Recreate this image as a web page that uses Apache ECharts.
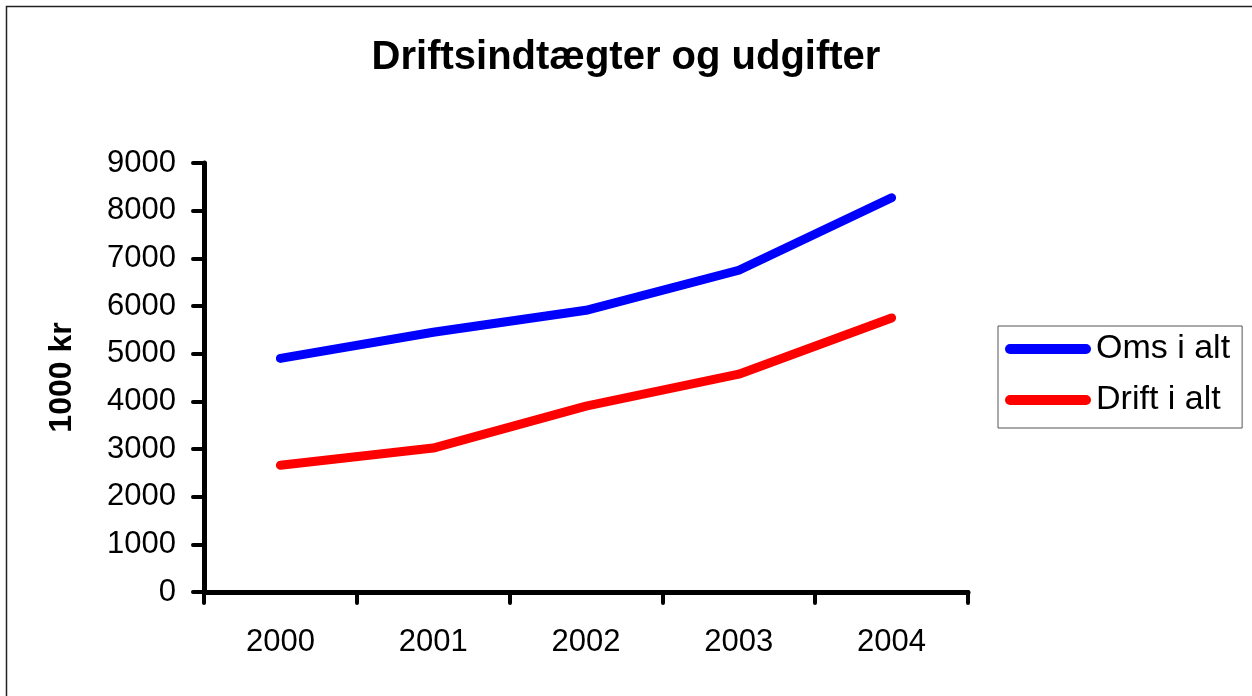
<!DOCTYPE html>
<html>
<head>
<meta charset="utf-8">
<script src="https://cdn.jsdelivr.net/npm/echarts@6/dist/echarts.min.js"></script>
<style>
  html, body { margin: 0; padding: 0; background: #fff; }
  #chart { width: 1252px; height: 696px; }
</style>
</head>
<body>
<div id="chart"></div>
<script>
const years = ['2000', '2001', '2002', '2003', '2004'];
const omsIAlt = [4900, 5450, 5910, 6750, 8270];
const driftIAlt = [2660, 3020, 3900, 4570, 5750];
const yTicks = { min: 0, max: 9000, interval: 1000 };

const FONT = '"Liberation Sans", Arial, sans-serif';
// pille-formet ikon til legend
const pill = 'path://M5,0 H81 A5,5 0 0 1 81,10 H5 A5,5 0 0 1 5,0 Z';

const chart = echarts.init(document.getElementById('chart'));

chart.setOption({
  backgroundColor: '#fff',
  animation: false,
  textStyle: { fontFamily: FONT, color: '#000' },
  title: {
    text: 'Driftsindtægter og udgifter',
    left: 'center',
    top: 33,
    textStyle: { fontFamily: FONT, fontSize: 40, fontWeight: 'bold', color: '#000' }
  },
  graphic: [{
    type: 'rect',
    shape: { x: 6.5, y: 6.5, width: 1300, height: 800 },
    style: { fill: 'none', stroke: '#222', lineWidth: 1.5 },
    silent: true
  }],
  legend: {
    orient: 'vertical',
    left: 998,
    top: 326,
    padding: [6, 12, 11, 7],
    itemGap: 17,
    itemWidth: 86,
    itemHeight: 10,
    borderColor: '#555',
    borderWidth: 1,
    textStyle: { fontFamily: FONT, fontSize: 34, color: '#000' },
    data: [
      { name: 'Oms i alt', icon: pill },
      { name: 'Drift i alt', icon: pill }
    ]
  },
  grid: { left: 204, right: 284, top: 163, bottom: 104 },
  xAxis: {
    type: 'category',
    data: years,
    boundaryGap: true,
    axisLine: { lineStyle: { color: '#000', width: 5 } },
    axisTick: { show: true, interval: 0, alignWithLabel: false, length: 11, lineStyle: { color: '#000', width: 4, cap: 'round' } },
    axisLabel: { fontFamily: FONT, fontSize: 31, color: '#000', margin: 35 }
  },
  yAxis: {
    type: 'value',
    min: yTicks.min,
    max: yTicks.max,
    interval: yTicks.interval,
    name: '1000 kr',
    nameLocation: 'middle',
    nameGap: 126,
    nameTextStyle: { fontFamily: FONT, fontSize: 32, fontWeight: 'bold', color: '#000' },
    splitLine: { show: false },
    axisLine: { show: true, lineStyle: { color: '#000', width: 5 } },
    axisTick: { show: true, length: 11, lineStyle: { color: '#000', width: 4, cap: 'round' } },
    axisLabel: { fontFamily: FONT, fontSize: 31, color: '#000', margin: 28, formatter: v => String(v) }
  },
  series: [
    {
      name: 'Oms i alt',
      type: 'line',
      data: omsIAlt,
      symbol: 'none',
      color: '#0000ff',
      lineStyle: { color: '#0000ff', width: 9, cap: 'round', join: 'round' }
    },
    {
      name: 'Drift i alt',
      type: 'line',
      data: driftIAlt,
      symbol: 'none',
      color: '#ff0000',
      lineStyle: { color: '#ff0000', width: 9, cap: 'round', join: 'round' }
    }
  ]
});
</script>
</body>
</html>
